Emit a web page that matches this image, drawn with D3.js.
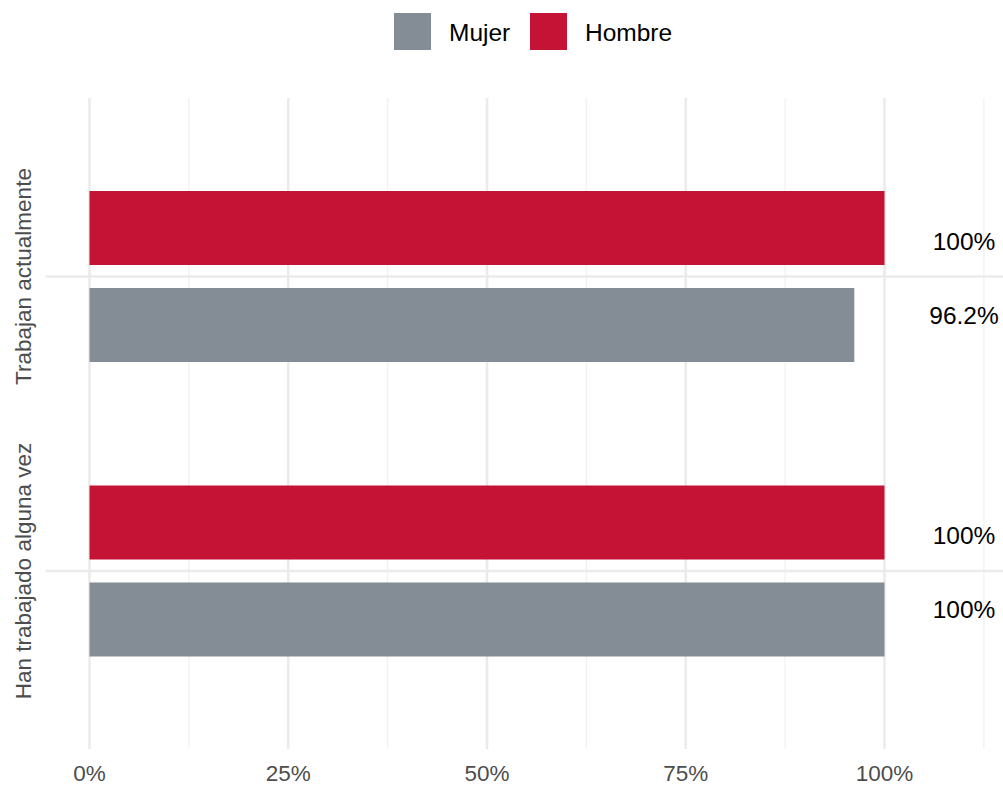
<!DOCTYPE html>
<html>
<head>
<meta charset="utf-8">
<script src="https://cdn.jsdelivr.net/npm/d3@7"></script>
<style>
  html, body { margin: 0; padding: 0; background: #fff; }
  svg text { font-family: Arial, "Liberation Sans", Helvetica, sans-serif; }
</style>
</head>
<body>
<svg id="chart" width="1003" height="787"></svg>
<script>
const categories = ["Trabajan actualmente", "Han trabajado alguna vez"];
const series = ["Hombre", "Mujer"];
const legendOrder = ["Mujer", "Hombre"];
const hombreValues = [1.00, 1.00];
const mujerValues = [0.962, 1.00];
const valueLabels = { Hombre: ["100%", "100%"], Mujer: ["96.2%", "100%"] };
const majorTicks = [0, 0.25, 0.5, 0.75, 1.0];
const minorTicks = [0.125, 0.375, 0.625, 0.875, 1.125];
const colors = { Mujer: "#848d96", Hombre: "#c41335" };

const W = 1003, H = 787;
const FONT = "Arial, 'Liberation Sans', Helvetica, sans-serif";
const svg = d3.select("#chart");

const x = d3.scaleLinear().domain([0, 1]).range([89.5, 884.5]);
const panel = { left: x(-0.055), right: W, top: 98, bottom: 749 };
const y = d3.scalePoint().domain(categories).range([276.5, 571]);
const sub = d3.scaleBand().domain(series).range([-85.5, 85.5]).paddingInner(0.237).paddingOuter(0);

svg.append("g").selectAll("line").data(minorTicks).join("line")
  .attr("x1", d => x(d)).attr("x2", d => x(d))
  .attr("y1", panel.top).attr("y2", panel.bottom)
  .attr("stroke", "#f1f1f1").attr("stroke-width", 1.3);
svg.append("g").selectAll("line").data(majorTicks).join("line")
  .attr("x1", d => x(d)).attr("x2", d => x(d))
  .attr("y1", panel.top).attr("y2", panel.bottom)
  .attr("stroke", "#ebebeb").attr("stroke-width", 2.6);
svg.append("g").selectAll("line").data(categories).join("line")
  .attr("x1", panel.left).attr("x2", panel.right)
  .attr("y1", d => y(d)).attr("y2", d => y(d))
  .attr("stroke", "#ebebeb").attr("stroke-width", 2.6);

const rows = [];
categories.forEach((c, i) => {
  rows.push({ cat: c, s: "Hombre", v: hombreValues[i], label: valueLabels.Hombre[i] });
  rows.push({ cat: c, s: "Mujer", v: mujerValues[i], label: valueLabels.Mujer[i] });
});

svg.append("g").selectAll("rect").data(rows).join("rect")
  .attr("x", x(0))
  .attr("width", d => x(d.v) - x(0))
  .attr("y", d => y(d.cat) + sub(d.s))
  .attr("height", sub.bandwidth())
  .attr("fill", d => colors[d.s]);

svg.append("g").selectAll("text").data(rows).join("text")
  .attr("x", x(1.10))
  .attr("y", d => y(d.cat) + (d.s === "Hombre" ? -35.5 : 38.5))
  .attr("dy", "0.35em")
  .attr("text-anchor", "middle")
  .attr("font-family", FONT)
  .attr("font-size", 24.5)
  .attr("fill", "#000")
  .text(d => d.label);

svg.append("g").selectAll("text").data(majorTicks).join("text")
  .attr("x", d => x(d)).attr("y", 773).attr("dy", "0.35em")
  .attr("text-anchor", "middle").attr("font-family", FONT)
  .attr("font-size", 22.5).attr("fill", "#4d4d4d")
  .text(d => d3.format(".0%")(d));

svg.append("g").selectAll("text").data(categories).join("text")
  .attr("transform", d => `translate(23,${y(d)}) rotate(-90)`)
  .attr("dy", "0.35em")
  .attr("text-anchor", "middle").attr("font-family", FONT)
  .attr("font-size", 22.5).attr("fill", "#4d4d4d")
  .text(d => d);

const legendPos = { Mujer: 394, Hombre: 530 };
const lg = svg.append("g");
legendOrder.forEach(s => {
  lg.append("rect").attr("x", legendPos[s]).attr("y", 13).attr("width", 37).attr("height", 37).attr("fill", colors[s]);
  lg.append("text").attr("x", legendPos[s] + 55).attr("y", 32).attr("dy", "0.35em")
    .attr("font-family", FONT)
    .attr("font-size", 24.5).attr("fill", "#000").text(s);
});
</script>
</body>
</html>
